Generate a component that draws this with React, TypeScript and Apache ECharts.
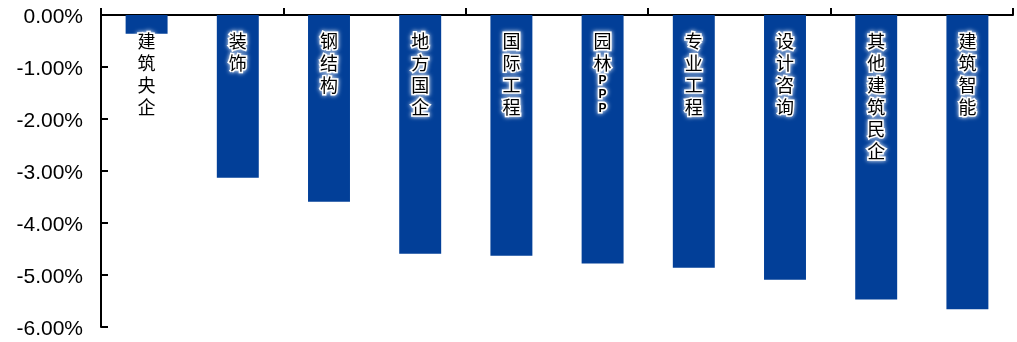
import React, { useEffect, useRef } from "react";
import * as echarts from "echarts";

const categories = ["建筑央企", "装饰", "钢结构", "地方国企", "国际工程", "园林PPP", "专业工程", "设计咨询", "其他建筑民企", "建筑智能"];
const values = [-0.36, -3.13, -3.59, -4.59, -4.63, -4.78, -4.86, -5.09, -5.47, -5.66];
const yTicks = { min: -6, max: 0, interval: 1 };

function verticalLabel(name: string): string {
  const m = name.match(/^(.*?)(PPP)$/);
  if (m) {
    return m[1].split("").join("\n") + "\n" + "{p|P}\n{p|P}\n{p|P}";
  }
  return name.split("").join("\n");
}

export default function App() {
  const ref = useRef<HTMLDivElement>(null);
  useEffect(() => {
    if (!ref.current) return;
    const chart = echarts.init(ref.current, undefined, { renderer: "svg" });
    chart.setOption({
      animation: false,
      grid: { left: 101, right: 4, top: 15, bottom: 15 },
      xAxis: {
        type: "category",
        position: "top",
        data: categories,
        boundaryGap: true,
        axisLine: { show: true, lineStyle: { color: "#000", width: 2 } },
        axisTick: { show: true, inside: false, length: 7, lineStyle: { color: "#000", width: 2 } },
        axisLabel: { show: false },
        splitLine: { show: false },
      },
      yAxis: {
        type: "value",
        min: yTicks.min,
        max: yTicks.max,
        interval: yTicks.interval,
        axisLine: { show: true, lineStyle: { color: "#000", width: 2 } },
        axisTick: { show: true, inside: true, length: 7, lineStyle: { color: "#000", width: 2 } },
        axisLabel: {
          color: "#000",
          fontFamily: "Liberation Sans",
          fontSize: 21,
          margin: 18,
          formatter: (v: number) => v.toFixed(2) + "%",
        },
        splitLine: { show: false },
      },
      series: [
        {
          type: "bar",
          data: values,
          barWidth: "46%",
          itemStyle: { color: "#023F98" },
          label: {
            show: true,
            position: "insideTop",
            distance: 14,
            formatter: (p: any) => verticalLabel(p.name),
            color: "#000",
            fontFamily: "Noto Sans CJK SC",
            fontSize: 18,
            lineHeight: 22,
            textBorderColor: "#fff",
            textBorderWidth: 3,
            textShadowColor: "#fff",
            textShadowBlur: 4,
            rich: {
              p: {
                fontFamily: "Liberation Sans",
                fontWeight: "bold",
                fontSize: 12,
                lineHeight: 14,
                color: "#000",
                textBorderColor: "#fff",
                textBorderWidth: 3,
              },
            },
          },
        },
      ],
    });
    return () => chart.dispose();
  }, []);
  return <div ref={ref} style={{ position: "fixed", left: 0, top: 0, width: 1017, height: 342 }} />;
}
